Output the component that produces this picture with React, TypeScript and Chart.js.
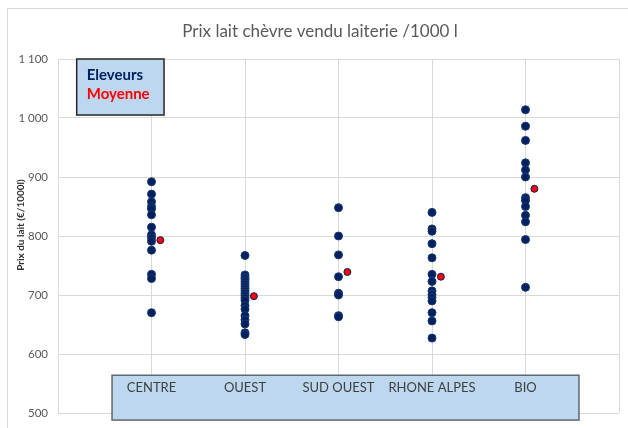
import { useEffect, useRef } from "react";
import { Chart, registerables } from "chart.js";

Chart.register(...registerables);

const categories = ["CENTRE", "OUEST", "SUD OUEST", "RHONE ALPES", "BIO"];
const centre = [892, 871, 858, 850, 846, 836, 815, 802, 797, 791, 776, 735, 728, 670];
const ouest = [767, 734, 730, 727, 723, 719, 715, 711, 707, 703, 699, 695, 691, 682, 676, 665, 658, 651, 636, 633];
const sudOuest = [848, 800, 768, 731, 703, 700, 665, 663];
const rhoneAlpes = [840, 812, 808, 787, 763, 735, 723, 707, 701, 696, 690, 670, 656, 627];
const bio = [1014, 986, 962, 924, 912, 900, 865, 860, 850, 835, 824, 794, 713];
const moyennes = [793, 698, 739, 731, 880];
const eleveurs = [centre, ouest, sudOuest, rhoneAlpes, bio];
const yMin = 500;
const yMax = 1100;
const yStep = 100;
const titleText = "Prix lait chèvre vendu laiterie /1000 l";
const yAxisTitle = "Prix du lait (€/1000l)";
const legendLabels = ["Eleveurs", "Moyenne"];

const FONT = "Lato, 'Open Sans', sans-serif";
const NAVY = "#002060";
const RED = "#ff0000";
const BOX_FILL = "#bdd7ee";

const fmt = (v: number) =>
  v >= 1000 ? `${Math.floor(v / 1000)} ${String(v % 1000).padStart(3, "0")}` : String(v);

const overlayPlugin = {
  id: "overlay",
  beforeDraw(chart: any) {
    const ctx = chart.ctx;
    ctx.save();
    ctx.fillStyle = "#ffffff";
    ctx.fillRect(0, 0, chart.width, chart.height);
    ctx.strokeStyle = "#d9d9d9";
    ctx.lineWidth = 1;
    ctx.strokeRect(7.5, 8.5, chart.width, chart.height);
    // title
    ctx.font = `17px ${FONT}`;
    ctx.fillStyle = "#595959";
    ctx.textAlign = "center";
    ctx.textBaseline = "middle";
    ctx.fillText(titleText, 320, 32);
    ctx.restore();
  },
  afterDraw(chart: any) {
    const ctx = chart.ctx;
    const xs = chart.scales.x;
    const ys = chart.scales.y;
    ctx.save();

    // legend box
    const lx0 = xs.getPixelForValue(0.2);
    const lx1 = xs.getPixelForValue(1.134);
    const ly0 = ys.getPixelForValue(1100);
    const ly1 = ys.getPixelForValue(1005);
    ctx.fillStyle = BOX_FILL;
    ctx.fillRect(lx0, ly0, lx1 - lx0, ly1 - ly0);
    ctx.strokeStyle = "#262626";
    ctx.lineWidth = 1.5;
    ctx.strokeRect(lx0, ly0, lx1 - lx0, ly1 - ly0);
    ctx.font = `bold 15px ${FONT}`;
    ctx.textBaseline = "middle";
    ctx.textAlign = "left";
    ctx.fillStyle = NAVY;
    ctx.fillText(legendLabels[0], lx0 + 10, ly0 + 16);
    ctx.fillStyle = RED;
    ctx.fillText(legendLabels[1], lx0 + 10, ly0 + 35);

    // category box
    const bx0 = xs.getPixelForValue(0.578);
    const bx1 = xs.getPixelForValue(5.572);
    const by0 = ys.getPixelForValue(564);
    const by1 = ys.getPixelForValue(488);
    ctx.fillStyle = BOX_FILL;
    ctx.fillRect(bx0, by0, bx1 - bx0, by1 - by0);
    ctx.strokeStyle = "#5f6770";
    ctx.lineWidth = 1.5;
    ctx.strokeRect(bx0, by0, bx1 - bx0, by1 - by0);
    ctx.font = `13px ${FONT}`;
    ctx.fillStyle = "#404040";
    ctx.textAlign = "center";
    categories.forEach((c, i) => {
      ctx.fillText(c, xs.getPixelForValue(i + 1), by0 + 13);
    });

    // y axis title
    ctx.translate(20.5, 225);
    ctx.rotate(-Math.PI / 2);
    ctx.font = `bold 10px ${FONT}`;
    ctx.fillStyle = "#333333";
    ctx.textAlign = "center";
    ctx.fillText(yAxisTitle, 0, 0);
    ctx.restore();
  },
};

export default function App() {
  const ref = useRef<HTMLCanvasElement | null>(null);
  useEffect(() => {
    if (!ref.current) return;
    const chart = new Chart(ref.current, {
      type: "scatter",
      data: {
        datasets: [
          {
            label: legendLabels[1],
            data: moyennes.map((m, i) => ({ x: i + 1 + 0.095, y: m })),
            backgroundColor: RED,
            borderColor: NAVY,
            borderWidth: 1,
            pointRadius: 3.5,
          },
          {
            label: legendLabels[0],
            data: eleveurs.flatMap((arr, i) => arr.map((v) => ({ x: i + 1, y: v }))),
            backgroundColor: NAVY,
            borderColor: "#1b3a70",
            borderWidth: 1,
            pointRadius: 4,
          },
        ],
      },
      options: {
        animation: false,
        responsive: false,
        layout: { padding: { left: 0, right: 9, bottom: 15, top: 59 } },
        plugins: {
          legend: { display: false },
          tooltip: { enabled: false },
          title: { display: false },
        },
        scales: {
          x: {
            type: "linear",
            min: 0,
            max: categories.length + 1,
            ticks: { display: false, stepSize: 1 },
            grid: { color: "#d9d9d9", drawTicks: false },
            border: { display: false },
            afterFit: (s: any) => {
              s.height = 0;
              s.paddingLeft = 0;
              s.paddingRight = 0;
            },
          },
          y: {
            min: yMin,
            max: yMax,
            ticks: {
              stepSize: yStep,
              padding: 10,
              color: "#595959",
              font: { family: FONT, size: 11.5 },
              callback: (v: any) => fmt(Number(v)),
            },
            grid: { color: "#d9d9d9", drawTicks: false },
            border: { display: true, color: "#d9d9d9" },
            afterFit: (s: any) => {
              s.width = 58;
              s.paddingTop = 0;
              s.paddingBottom = 0;
            },
          },
        },
      },
      plugins: [overlayPlugin],
    });
    return () => chart.destroy();
  }, []);
  return (
    <div style={{ position: "fixed", left: 0, top: 0, width: 628, height: 428 }}>
      <canvas ref={ref} width={628} height={428} />
    </div>
  );
}
